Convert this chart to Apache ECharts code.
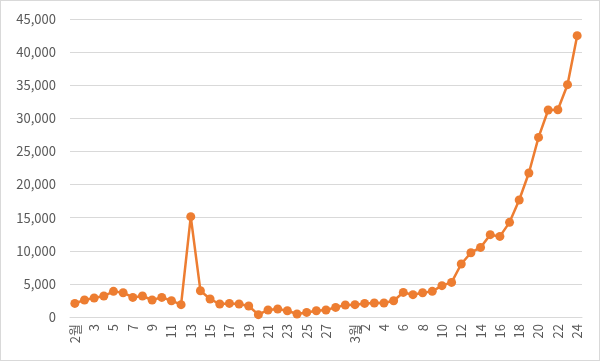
<!DOCTYPE html>
<html>
<head>
<meta charset="utf-8">
<script src="https://cdn.jsdelivr.net/npm/echarts@6/dist/echarts.min.js"></script>
<style>
html,body{margin:0;padding:0;background:#fff;}
#wrap{position:absolute;left:0;top:0;width:598px;height:359px;border:1px solid #d9d9d9;}
#chart{width:598px;height:359px;}
</style>
</head>
<body>
<div id="wrap"><div id="chart"></div></div>
<script>
// Categories: Feb 1 .. Feb 29, Mar 1 .. Mar 24 (2020)
const febDays = ['2월','2','3','4','5','6','7','8','9','10','11','12','13','14','15','16','17','18','19','20','21','22','23','24','25','26','27','28','29'];
const marDays = ['3월','2','3','4','5','6','7','8','9','10','11','12','13','14','15','16','17','18','19','20','21','22','23','24'];
const categories = febDays.concat(marDays);

// Daily values
const febValues = [2050,2570,2870,3170,3870,3670,2960,3170,2570,2960,2460,1860,15150,3970,2720,1960,2050,1960,1660,350,1060,1210,950,450,690,950,1060,1450,1810];
const marValues = [1860,2050,2110,2110,2460,3710,3370,3670,3870,4730,5220,8000,9710,10510,12430,12170,14290,17670,21740,27120,31260,31300,35080,42480];
const values = febValues.concat(marValues);

const yTicks = {min:0, max:45000, interval:5000};

const chart = echarts.init(document.getElementById('chart'), null, {renderer:'canvas'});
const font = '"Noto Sans CJK KR", "Liberation Sans", sans-serif';
chart.setOption({
  animation:false,
  grid:{left:69, right:17, top:18, bottom:43},
  xAxis:{
    type:'category',
    data:categories,
    boundaryGap:true,
    axisLine:{lineStyle:{color:'#d9d9d9', width:1}},
    axisTick:{show:false},
    axisLabel:{
      rotate:90,
      color:'#595959',
      fontSize:13,
      fontFamily:font,
      margin:7,
      interval:function(i){ return (i % 2 === 0 && i !== 28) || i === 29; }
    }
  },
  yAxis:{
    type:'value',
    min:yTicks.min, max:yTicks.max, interval:yTicks.interval,
    axisLine:{show:false},
    axisTick:{show:false},
    splitLine:{lineStyle:{color:'#d9d9d9', width:1}},
    axisLabel:{
      color:'#595959',
      fontSize:13,
      fontFamily:font,
      margin:14,
      formatter:function(v){ return v.toLocaleString('en-US'); }
    }
  },
  series:[{
    type:'line',
    data:values,
    symbol:'circle',
    symbolSize:9,
    showAllSymbol:true,
    lineStyle:{color:'#ED7D31', width:2.5},
    itemStyle:{color:'#ED7D31'}
  }]
});
</script>
</body>
</html>
